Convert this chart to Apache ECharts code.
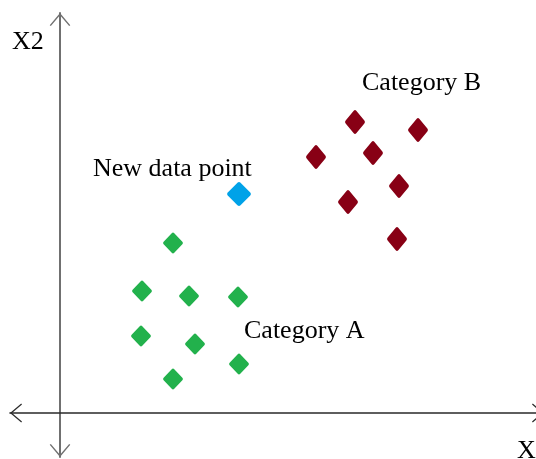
<!DOCTYPE html>
<html><head><meta charset="utf-8">
<script src="https://cdn.jsdelivr.net/npm/echarts@6/dist/echarts.min.js"></script>
<style>html,body{margin:0;padding:0;background:#fff}#c{width:536px;height:459px}</style>
</head><body><div id="c"></div>
<script>
// data (x, x2) in axis units, origin at axes crossing
const categoryA = [[113,170],[82,122],[129,117],[178,116],[81,77],[135,69],[179,49],[113,34]];
const categoryB = [[295,291],[358,283],[256,256],[313,260],[339,227],[288,211],[337,174]];
const newPoint = [[179,219]];
const seriesNames = ['Category A', 'Category B', 'New data point'];
const axisNames = ['X', 'X2'];

const diamond = 'path://M44,6 Q50,0 56,6 L94,44 Q100,50 94,56 L56,94 Q50,100 44,94 L6,56 Q0,50 6,44 Z';
const chevron = 'path://M0,13 L11,0 L22,13 L20.8,13.9 L11,2.3 L1.2,13.9 Z';
const serif = '"Liberation Serif", "Times New Roman", serif';

const chart = echarts.init(document.getElementById('c'), null, {renderer: 'canvas'});
function txt(t, x, y) {
  return {type: 'text', left: x, top: y, z: 100,
    style: {text: t, fill: '#000', font: '26px ' + serif}};
}
chart.setOption({
  animation: false,
  backgroundColor: '#fff',
  grid: {left: 10, top: 13, right: 0, bottom: 2, containLabel: false},
  xAxis: {type: 'value', min: -50, max: 476, splitLine: {show: false},
    axisTick: {show: false}, axisLabel: {show: false},
    axisLine: {show: true, onZero: true, lineStyle: {color: '#2a2a2a', width: 1.6},
      symbol: [chevron, chevron], symbolSize: [20, 12], symbolOffset: [6, 2]}},
  yAxis: {type: 'value', min: -44, max: 400, splitLine: {show: false},
    axisTick: {show: false}, axisLabel: {show: false},
    axisLine: {show: true, onZero: true, lineStyle: {color: '#707070', width: 2},
      symbol: [chevron, chevron], symbolSize: [22, 13], symbolOffset: [6.5, -6.5]}},
  series: [
    {name: seriesNames[0], type: 'scatter', data: categoryA, symbol: diamond,
      symbolSize: [20, 21], itemStyle: {color: '#22B14C', opacity: 1}},
    {name: seriesNames[1], type: 'scatter', data: categoryB, symbol: diamond,
      symbolSize: [20, 24], itemStyle: {color: '#880015', opacity: 1}},
    {name: seriesNames[2], type: 'scatter', data: newPoint, symbol: diamond,
      symbolSize: [24, 24], itemStyle: {color: '#00A2E8', opacity: 1}}
  ],
  graphic: [
    txt(seriesNames[1], 362, 70),
    txt(seriesNames[0], 244, 318),
    txt(seriesNames[2], 93, 156),
    txt(axisNames[1], 12, 29),
    txt(axisNames[0], 517, 438)
  ]
});
</script>
</body></html>
